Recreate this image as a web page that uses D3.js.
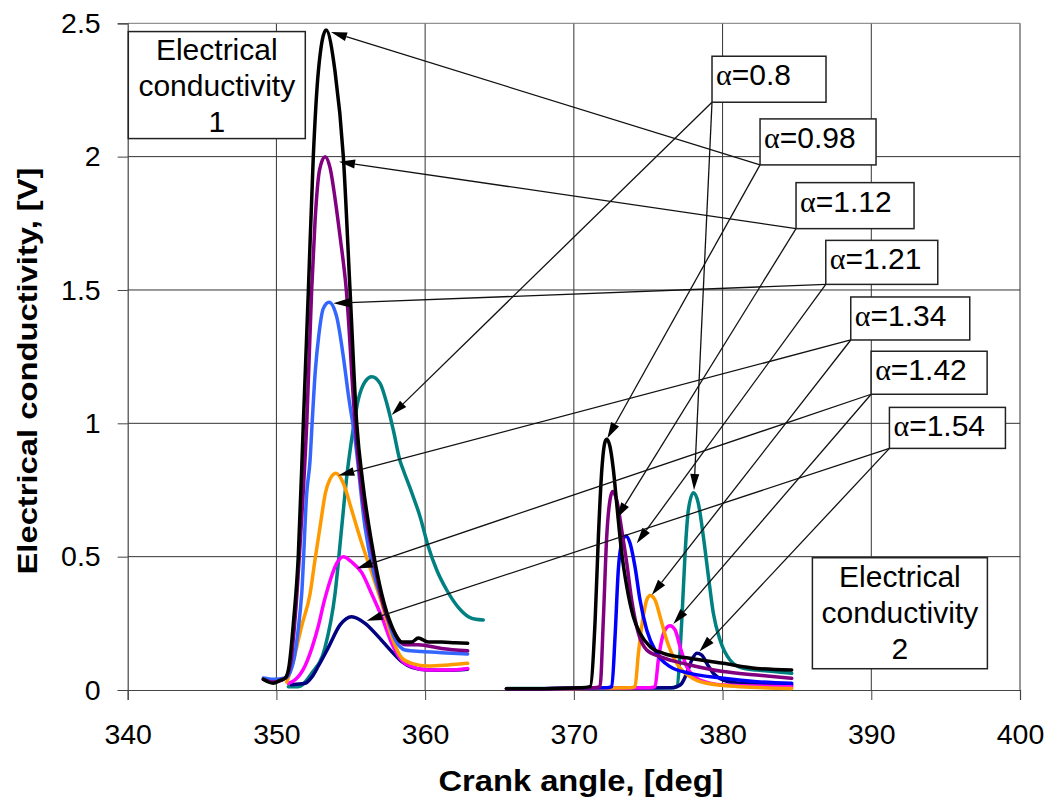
<!DOCTYPE html>
<html><head><meta charset="utf-8">
<script src="https://cdn.jsdelivr.net/npm/d3@7"></script>
<style>html,body{margin:0;padding:0;background:#fff;}svg{display:block;}</style>
</head><body>
<svg id="chart" width="1052" height="802"></svg>
<script>
// ---------- DATA ----------
const xTicks = [340, 350, 360, 370, 380, 390, 400];
const yTicks = [0, 0.5, 1, 1.5, 2, 2.5];
const yTickLabels = ["0", "0.5", "1", "1.5", "2", "2.5"];
const xTitle = "Crank angle, [deg]";
const yTitle = "Electrical conductivity, [V]";
const alphaLabels = ["0.8", "0.98", "1.12", "1.21", "1.34", "1.42", "1.54"];
const seriesColors1 = ["#008080", "#000000", "#800080", "#3366ff", "#ff9900", "#ff00ff", "#000080"];
const seriesColors2 = ["#008080", "#000000", "#800080", "#0000ff", "#ff9900", "#ff00ff", "#000080"];

// Electrical conductivity 1 (first sensor)
const ec1_a080 = [[350.8,0.0125],[351.47,0.0125],[352.37,0.0625],[353.27,0.16],[353.94,0.36],[354.39,0.61],[354.73,0.8],[355.06,0.94],[355.51,1.09],[355.96,1.156],[356.41,1.175],[356.97,1.15],[357.42,1.075],[357.86,0.975],[358.31,0.86],[358.53,0.825],[359.1,0.74],[359.66,0.65],[360.2,0.54],[360.78,0.45],[361.45,0.375],[362.23,0.31],[362.91,0.275],[363.4,0.265],[363.91,0.2625]];
const ec1_a098 = [[349.12,0.04],[349.45,0.03],[349.8,0.025],[350.2,0.035],[350.6,0.045],[350.85,0.09],[351.14,0.25],[351.47,0.5],[351.81,1.0],[352.15,1.5],[352.48,2.0],[352.82,2.32],[353.34,2.475],[353.94,2.32],[354.5,2.0],[354.95,1.5],[355.4,1.0],[355.8,0.78],[356.41,0.55],[357.08,0.36],[357.75,0.24],[358.43,0.18],[359.1,0.18],[359.54,0.195],[360.2,0.18],[361.1,0.18],[362.0,0.177],[362.86,0.175]];
const ec1_a112 = [[349.12,0.04],[349.8,0.03],[350.6,0.045],[350.95,0.1],[351.3,0.3],[351.65,0.6],[352.04,1.0],[352.37,1.5],[352.6,1.76],[352.9,1.95],[353.27,2.0],[353.6,1.96],[354.0,1.82],[354.28,1.70],[354.7,1.5],[355.29,1.0],[355.75,0.74],[356.41,0.53],[357.08,0.34],[357.98,0.21],[358.65,0.17],[359.54,0.17],[361.1,0.156],[362.86,0.147]];
const ec1_a121 = [[349.12,0.045],[349.8,0.04],[350.6,0.045],[350.95,0.07],[351.2,0.12],[351.45,0.22],[351.7,0.36],[352.04,0.74],[352.26,0.86],[352.4,1.0],[352.62,1.2],[352.85,1.33],[353.15,1.43],[353.54,1.454],[354.05,1.40],[354.5,1.25],[354.83,1.11],[355.29,0.94],[355.96,0.61],[356.5,0.45],[357.08,0.34],[357.98,0.19],[358.65,0.15],[359.77,0.144],[361.1,0.14],[362.86,0.135]];
const ec1_a134 = [[350.7,0.03],[351.14,0.11],[351.7,0.24],[352.26,0.36],[352.6,0.49],[352.93,0.61],[353.3,0.74],[353.6,0.79],[354.0,0.8125],[354.5,0.775],[355.06,0.675],[355.74,0.55],[356.41,0.44],[357.08,0.325],[357.75,0.2],[358.43,0.12],[359.1,0.1],[360.2,0.09],[361.56,0.094],[362.86,0.1]];
const ec1_a142 = [[350.8,0.025],[351.3,0.04],[351.92,0.09],[352.4,0.16],[352.82,0.24],[353.2,0.33],[353.5,0.39],[354.05,0.475],[354.5,0.5],[355.06,0.48],[355.74,0.44],[356.41,0.36],[357.08,0.275],[357.75,0.175],[358.43,0.11],[359.1,0.088],[360.2,0.075],[361.56,0.075],[362.86,0.081]];
const ec1_a154 = [[351.0,0.02],[351.92,0.025],[352.4,0.05],[352.82,0.09],[353.5,0.16],[354.28,0.244],[355.06,0.275],[355.96,0.25],[356.85,0.2],[357.75,0.144],[358.43,0.106],[359.1,0.085],[360.2,0.075],[361.56,0.074],[362.86,0.078]];

// Electrical conductivity 2 (second sensor)
const ec2_a080 = [[365.47,0.006],[368,0.006],[376.6,0.008],[376.92,0.0125],[377.26,0.2625],[377.48,0.5125],[377.7,0.675],[378.04,0.74],[378.37,0.7],[378.71,0.575],[379.05,0.425],[379.38,0.2875],[379.83,0.1875],[380.5,0.1125],[381.4,0.081],[382.3,0.075],[383.42,0.069],[384.65,0.0625]];
const ec2_a098 = [[365.47,0.005],[368,0.005],[370.5,0.008],[371.09,0.0125],[371.43,0.26],[371.65,0.575],[371.88,0.825],[372.1,0.931],[372.21,0.94],[372.43,0.9125],[372.66,0.825],[372.88,0.7],[373.22,0.5125],[373.56,0.3875],[374.0,0.275],[374.45,0.2125],[375.13,0.1625],[376.02,0.1375],[377.81,0.119],[380.05,0.1],[382.3,0.081],[384.65,0.075]];
const ec2_a112 = [[365.47,0.005],[368,0.005],[371.3,0.008],[371.76,0.0125],[371.98,0.26],[372.21,0.575],[372.43,0.7125],[372.61,0.744],[372.88,0.7125],[373.22,0.6],[373.56,0.475],[373.89,0.3375],[374.34,0.2125],[374.9,0.15],[375.8,0.125],[377.81,0.094],[380.05,0.069],[382.3,0.056],[384.65,0.044]];
const ec2_a121 = [[365.47,0.005],[368,0.005],[372.2,0.008],[372.55,0.0125],[372.77,0.2],[372.99,0.45],[373.22,0.55],[373.51,0.5775],[373.78,0.55],[374.11,0.4625],[374.45,0.3375],[374.9,0.225],[375.57,0.1375],[376.47,0.0875],[377.81,0.0625],[380.05,0.044],[382.3,0.031],[384.65,0.025]];
const ec2_a134 = [[365.47,0.005],[368,0.005],[373.8,0.008],[374.11,0.0125],[374.34,0.1375],[374.63,0.2625],[374.9,0.3375],[375.13,0.354],[375.46,0.3375],[375.8,0.275],[376.24,0.1875],[376.92,0.1],[377.81,0.05],[378.93,0.025],[381.18,0.0125],[384.65,0.006]];
const ec2_a142 = [[365.47,0.005],[368,0.005],[375.1,0.008],[375.46,0.0125],[375.68,0.1125],[375.91,0.1875],[376.13,0.225],[376.47,0.241],[376.81,0.225],[377.14,0.1625],[377.59,0.0875],[378.49,0.0375],[380.05,0.019],[384.65,0.0125]];
const ec2_a154 = [[365.47,0.005],[368,0.005],[376.6,0.008],[376.92,0.0125],[377.26,0.025],[377.59,0.0625],[377.93,0.1125],[378.27,0.1375],[378.6,0.131],[378.94,0.1],[379.38,0.0625],[380.05,0.0375],[381.18,0.025],[384.65,0.019]];

// annotation anchors (data coordinates): label box bottom-left, arrow tips on each peak
const labelAnchors = [[379.29,2.204],[382.52,1.969],[384.94,1.730],[386.94,1.521],[388.62,1.3125],[389.99,1.109],[391.22,0.906]];
const tips1 = [[357.75,1.031],[353.67,2.4675],[354.21,1.981],[353.83,1.450],[354.16,0.804],[355.40,0.456],[356.07,0.260]];
const tips2 = [[378.08,0.75],[372.25,0.944],[372.88,0.644],[374.23,0.550],[375.24,0.356],[376.69,0.2475],[378.44,0.144]];
const sensorLabels = [["Electrical", "conductivity", "1"], ["Electrical", "conductivity", "2"]];
const sensorAnchors = [[340.04,2.469],[386.04,0.496]];

// ---------- CHART ----------
const svg = d3.select("#chart");
const x = d3.scaleLinear().domain([340, 400]).range([127.7, 1020]);
const y = d3.scaleLinear().domain([0, 2.5]).range([690, 23.3]);
const FONT = "'Liberation Sans', Arial, sans-serif";

// grid
const grid = svg.append("g");
grid.selectAll("line.v").data(xTicks.slice(1)).join("line")
  .attr("x1", d => x(d)).attr("x2", d => x(d)).attr("y1", y(2.5)).attr("y2", y(0))
  .attr("stroke", "#333").attr("stroke-width", 1);
grid.selectAll("line.h").data(yTicks.slice(1)).join("line")
  .attr("x1", x(340)).attr("x2", x(400)).attr("y1", d => y(d)).attr("y2", d => y(d))
  .attr("stroke", d => d === 2.5 ? "#777" : "#333").attr("stroke-width", 1);

// axes
const xAxis = svg.append("g").attr("transform", `translate(0,${y(0)})`)
  .call(d3.axisBottom(x).tickValues(xTicks).tickSize(10).tickPadding(24).tickFormat(d3.format("d")));
const yAxis = svg.append("g").attr("transform", `translate(${x(340)},0)`)
  .call(d3.axisLeft(y).tickValues(yTicks).tickSize(10).tickPadding(17).tickFormat((d, i) => yTickLabels[i]));
[xAxis, yAxis].forEach(a => {
  a.select(".domain").attr("stroke", "#444").attr("stroke-width", 1.2);
  a.selectAll(".tick line").attr("stroke", "#444");
  a.selectAll("text").attr("font-family", FONT).attr("font-size", 28.5).attr("fill", "#000");
});

// curves
const line = d3.line().x(d => x(d[0])).y(d => y(d[1])).curve(d3.curveMonotoneX);
const group1 = [ec1_a080, ec1_a154, ec1_a142, ec1_a134, ec1_a121, ec1_a112, ec1_a098];
const group2 = [ec2_a080, ec2_a154, ec2_a142, ec2_a134, ec2_a121, ec2_a112, ec2_a098];
const order = [0, 6, 5, 4, 3, 2, 1];
const curves = svg.append("g").attr("fill", "none").attr("stroke-width", 3.5).attr("stroke-linejoin", "round").attr("stroke-linecap", "round");
curves.selectAll("path.g1").data(group1).join("path")
  .attr("d", line).attr("stroke", (d, i) => seriesColors1[order[i]]);
curves.selectAll("path.g2").data(group2).join("path")
  .attr("d", line).attr("stroke", (d, i) => seriesColors2[order[i]]);

// arrows
const arrows = svg.append("g");
function arrow(from, to) {
  const [x0, y0] = from, [x1, y1] = to;
  const ang = Math.atan2(y1 - y0, x1 - x0);
  const L = 16, W = 4.5;
  const bx = x1 - L * Math.cos(ang), by = y1 - L * Math.sin(ang);
  arrows.append("line").attr("x1", x0).attr("y1", y0).attr("x2", bx).attr("y2", by)
    .attr("stroke", "#111").attr("stroke-width", 1.3);
  const px = -Math.sin(ang) * W, py = Math.cos(ang) * W;
  arrows.append("path")
    .attr("d", `M${x1},${y1}L${bx + px},${by + py}L${bx - px},${by - py}Z`)
    .attr("fill", "#000");
}
labelAnchors.forEach((a, i) => {
  const from = [x(a[0]), y(a[1])];
  arrow(from, [x(tips1[i][0]), y(tips1[i][1])]);
  arrow(from, [x(tips2[i][0]), y(tips2[i][1])]);
});

// alpha label boxes
const boxW = [114, 116, 118, 112, 119, 116, 116];
const boxH = [46, 46, 46, 44, 43, 43, 41];
const boxes = svg.append("g");
labelAnchors.forEach((a, i) => {
  const bx = x(a[0]), by = y(a[1]);
  boxes.append("rect").attr("x", bx).attr("y", by - boxH[i]).attr("width", boxW[i]).attr("height", boxH[i])
    .attr("fill", "#fff").attr("stroke", "#222").attr("stroke-width", 1.5);
  const t = boxes.append("text").attr("x", bx + 4).attr("y", by - boxH[i] + 29)
    .attr("font-family", FONT).attr("font-size", 30).attr("fill", "#000");
  t.append("tspan").attr("font-family", "'Liberation Serif', 'Times New Roman', serif").text("α");
  t.append("tspan").text("=" + alphaLabels[i]);
});

// sensor boxes
const sW = [177, 175], sH = [107, 111];
sensorAnchors.forEach((a, i) => {
  const bx = x(a[0]), by = y(a[1]);
  boxes.append("rect").attr("x", bx).attr("y", by).attr("width", sW[i]).attr("height", sH[i])
    .attr("fill", "#fff").attr("stroke", "#222").attr("stroke-width", 1.5);
  sensorLabels[i].forEach((s, j) => {
    boxes.append("text").attr("x", bx + sW[i] / 2).attr("y", by + 28.5 + (i ? 1 : 0) + j * 36)
      .attr("text-anchor", "middle").attr("font-family", FONT).attr("font-size", 30).attr("fill", "#000").text(s);
  });
});

// axis titles
svg.append("text").attr("x", 581).attr("y", 791).attr("text-anchor", "middle")
  .attr("font-family", FONT).attr("font-size", 29).attr("font-weight", "bold")
  .attr("textLength", 285).attr("lengthAdjust", "spacingAndGlyphs").text(xTitle);
svg.append("text").attr("transform", `translate(37,371) rotate(-90)`).attr("text-anchor", "middle")
  .attr("font-family", FONT).attr("font-size", 28.5).attr("font-weight", "bold")
  .attr("textLength", 407).attr("lengthAdjust", "spacingAndGlyphs").text(yTitle);
</script>
</body></html>
